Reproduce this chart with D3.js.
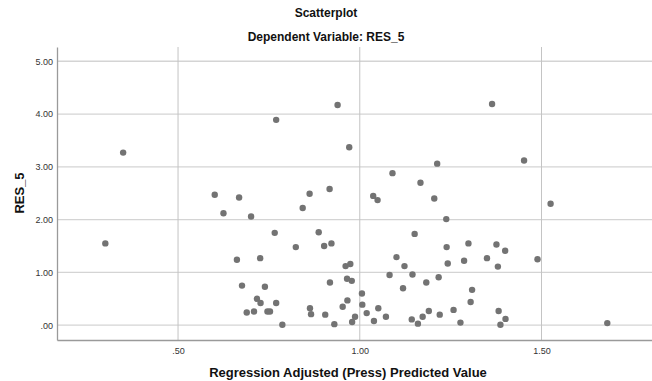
<!DOCTYPE html>
<html>
<head>
<meta charset="utf-8">
<script src="https://cdn.jsdelivr.net/npm/d3@7"></script>
<style>
  body { margin: 0; background: #fff; }
  svg { font-family: "Liberation Sans", Arial, sans-serif; }
</style>
</head>
<body>
<div id="chart"></div>
<script>
var svgWidth = 652;
var svgHeight = 381;

// predicted values (x) and residuals (y)
var predicted = [0.349, 0.300, 0.601, 0.668, 0.625, 0.701, 0.662, 0.676, 0.689, 0.709,
  0.939, 0.770, 0.971, 1.213, 1.090, 1.167, 0.917, 0.862, 1.037, 1.049,
  1.205, 0.843, 1.238, 0.766, 0.887, 1.151, 0.824, 0.902, 0.922, 1.239,
  0.726, 1.101, 1.123, 1.242, 0.961, 0.974, 1.082, 1.145, 1.217, 0.965,
  0.978, 0.918, 1.183, 0.739, 1.119, 1.006, 0.717, 0.727, 0.770, 0.966,
  1.007, 0.953, 0.863, 1.051, 0.746, 0.753, 0.866, 0.905, 1.019, 1.190,
  1.173, 0.987, 1.072, 1.220, 1.143, 0.979, 1.039, 0.930, 1.160, 0.787,
  1.364, 1.452, 1.525, 1.299, 1.376, 1.400, 1.287, 1.350, 1.380, 1.489,
  1.309, 1.305, 1.258, 1.277, 1.382, 1.401, 1.387, 1.681];
var residuals = [3.27, 1.55, 2.47, 2.42, 2.12, 2.06, 1.24, 0.75, 0.24, 0.26,
  4.17, 3.89, 3.37, 3.06, 2.88, 2.70, 2.58, 2.49, 2.45, 2.37,
  2.40, 2.22, 2.01, 1.75, 1.76, 1.73, 1.48, 1.50, 1.55, 1.48,
  1.27, 1.29, 1.12, 1.17, 1.12, 1.16, 0.95, 0.96, 0.91, 0.88,
  0.84, 0.81, 0.81, 0.73, 0.70, 0.60, 0.50, 0.42, 0.42, 0.47,
  0.39, 0.35, 0.32, 0.32, 0.26, 0.26, 0.21, 0.20, 0.23, 0.27,
  0.16, 0.16, 0.16, 0.20, 0.11, 0.06, 0.08, 0.02, 0.03, 0.01,
  4.19, 3.12, 2.30, 1.55, 1.53, 1.41, 1.22, 1.27, 1.11, 1.25,
  0.67, 0.44, 0.29, 0.05, 0.27, 0.12, 0.01, 0.04];

var xTicks = [0.5, 1.0, 1.5];
var yTicks = [0, 1, 2, 3, 4, 5];

var margin = {top: 47, right: 0, bottom: 41, left: 57};
var width = svgWidth - margin.left - margin.right;
var height = svgHeight - margin.top - margin.bottom;

var svg = d3.select("#chart")
  .append("svg")
  .attr("width", svgWidth)
  .attr("height", svgHeight);

var chartGroup = svg.append("g")
  .attr("transform", `translate(${margin.left},${margin.top})`);

var xScale = d3.scaleLinear().domain([0.167, 1.804]).range([0, width]);
var yScale = d3.scaleLinear().domain([-0.28, 5.27]).range([height, 0]);

function fmt(v) {
  var s = v.toFixed(2);
  return s.startsWith("0") ? s.slice(1) : s;
}

// grid lines
chartGroup.append("g")
  .selectAll("line")
  .data(yTicks)
  .enter()
  .append("line")
  .attr("x1", 0)
  .attr("x2", width)
  .attr("y1", d => yScale(d))
  .attr("y2", d => yScale(d))
  .attr("stroke", "#d4d4d4")
  .attr("stroke-width", 1.3);

chartGroup.append("g")
  .selectAll("line")
  .data(xTicks)
  .enter()
  .append("line")
  .attr("x1", d => xScale(d))
  .attr("x2", d => xScale(d))
  .attr("y1", 0)
  .attr("y2", height)
  .attr("stroke", "#c4c4c4")
  .attr("stroke-width", 1);

// axes
var bottomAxis = d3.axisBottom(xScale).tickValues(xTicks).tickFormat(fmt).tickSize(0).tickPadding(8);
var leftAxis = d3.axisLeft(yScale).tickValues(yTicks).tickFormat(fmt).tickSize(0).tickPadding(4);

var xAxis = chartGroup.append("g")
  .attr("transform", `translate(0, ${height})`)
  .call(bottomAxis);
var yAxis = chartGroup.append("g").call(leftAxis);

[xAxis, yAxis].forEach(function(ax) {
  ax.select(".domain").attr("stroke", "#9a9a9a").attr("stroke-width", 1.3);
  ax.selectAll("text")
    .attr("fill", "#333")
    .style("font-size", "9px")
    .style("font-family", "'Liberation Sans', Arial, sans-serif");
});

// points
chartGroup.append("g")
  .selectAll("circle")
  .data(predicted)
  .enter()
  .append("circle")
  .attr("cx", d => xScale(d))
  .attr("cy", (d, i) => yScale(residuals[i]))
  .attr("r", 3.2)
  .attr("fill", "#737373");

// titles
svg.append("text")
  .attr("x", 326)
  .attr("y", 17)
  .attr("text-anchor", "middle")
  .style("font-size", "12px")
  .style("font-weight", "bold")
  .attr("fill", "#111")
  .text("Scatterplot");

svg.append("text")
  .attr("x", 326)
  .attr("y", 41)
  .attr("text-anchor", "middle")
  .style("font-size", "12px")
  .style("font-weight", "bold")
  .attr("fill", "#111")
  .text("Dependent Variable: RES_5");

svg.append("text")
  .attr("transform", "translate(24, 193) rotate(-90)")
  .attr("text-anchor", "middle")
  .style("font-size", "13px")
  .style("font-weight", "bold")
  .attr("fill", "#111")
  .text("RES_5");

svg.append("text")
  .attr("x", 348)
  .attr("y", 377)
  .attr("text-anchor", "middle")
  .style("font-size", "13px")
  .style("font-weight", "bold")
  .attr("fill", "#111")
  .text("Regression Adjusted (Press) Predicted Value");
</script>
</body>
</html>
